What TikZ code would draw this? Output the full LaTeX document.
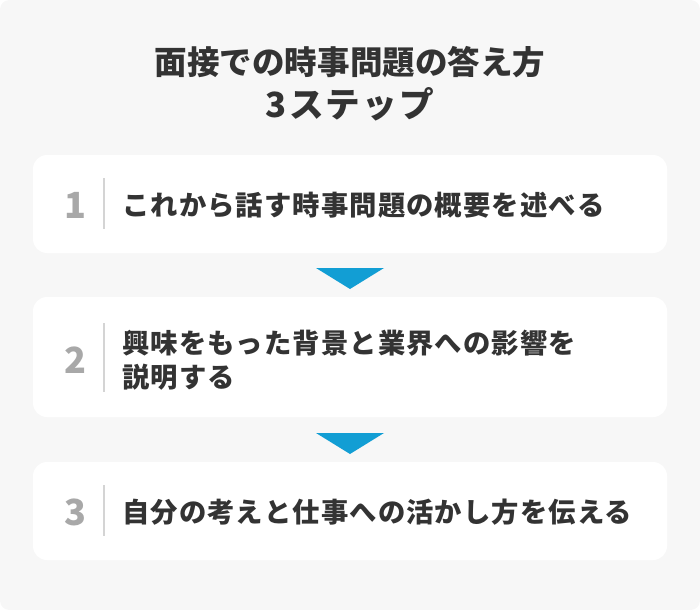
\documentclass[tikz,border=0pt]{standalone}
\usepackage{fontspec}
\setmainfont{Noto Sans CJK JP}
\usepackage{xcolor}
\definecolor{bggrey}{RGB}{247,247,247}
\definecolor{textgrey}{RGB}{51,51,51}
\definecolor{numgrey}{RGB}{168,168,168}
\definecolor{sepgrey}{RGB}{212,212,212}
\definecolor{stepblue}{RGB}{18,158,212}
\tikzstyle{stepbox}=[fill=white,rounded corners=10.5pt,minimum width=475.5pt,inner sep=0pt]
\tikzstyle{stepnum}=[text=numgrey,inner sep=0pt,font=\fontsize{27}{27}\selectfont\bfseries]
\tikzstyle{steptext}=[text=textgrey,inner sep=0pt,anchor=west,align=left,font=\fontsize{20.5}{25.5}\selectfont\bfseries\addfontfeatures{LetterSpace=4}]
\tikzstyle{stepsep}=[draw=sepgrey,line width=1.5pt]

\begin{document}
\begin{tikzpicture}[x=0.75pt,y=-0.75pt]
		\useasboundingbox (0,0) rectangle (700,610);
		\fill[bggrey,rounded corners=7pt] (0,0) rectangle (700,610);

		\node [text=textgrey,align=center,font=\fontsize{24.4}{32.5}\selectfont\bfseries] (title) at (350,84) {面接での時事問題の答え方\\{\fontsize{26}{32.5}\selectfont\addfontfeatures{LetterSpace=6}3ステップ}};

		\begin{scope}[shift={(0,204)}]
			\node [stepbox,minimum height=73.5pt] (stepOne) at (350,0) {};
			\node [stepnum] (numOne) at (75,1) {1};
			\draw [stepsep] (104,-26) -- (104,25);
			\node [steptext] (textOne) at (122,1) {これから話す時事問題の概要を述べる};
		\end{scope}

		\fill[stepblue] (316,268) -- (384,268) -- (350,289) -- cycle;

		\begin{scope}[shift={(0,357)}]
			\node [stepbox,minimum height=90pt] (stepTwo) at (350,0) {};
			\node [stepnum] (numTwo) at (75,3) {2};
			\draw [stepsep] (104,-34) -- (104,35);
			\node [steptext] (textTwo) at (122,3) {興味をもった背景と業界への影響を\\説明する};
		\end{scope}

		\fill[stepblue] (316,433) -- (384,433) -- (350,454) -- cycle;

		\begin{scope}[shift={(0,511)}]
			\node [stepbox,minimum height=73.5pt] (stepThree) at (350,0) {};
			\node [stepnum] (numThree) at (75,1) {3};
			\draw [stepsep] (104,-26) -- (104,25);
			\node [steptext] (textThree) at (122,1) {自分の考えと仕事への活かし方を伝える};
		\end{scope}
	\end{tikzpicture}
\end{document}
